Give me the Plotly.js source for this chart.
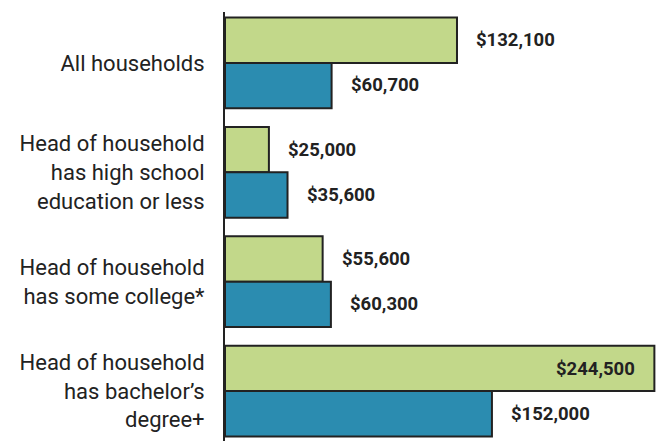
<!DOCTYPE html>
<html><head><meta charset="utf-8">
<script src="https://cdn.plot.ly/plotly-3.0.1.min.js"></script>
<style>body{margin:0;background:#fff}#c{width:660px;height:441px}</style>
</head><body><div id="c"></div>
<script>
const categories = ["All households", "Head of household<br>has high school<br>education or less", "Head of household<br>has some college*", "Head of household<br>has bachelor’s<br>degree+"];
const greenValues = [132100, 25000, 55600, 244500];
const blueValues = [60700, 35600, 60300, 152000];
const greenLabels = ["$132,100", "$25,000", "$55,600", "$244,500"];
const blueLabels = ["$60,700", "$35,600", "$60,300", "$152,000"];

const GREEN = "#c2d88a", BLUE = "#2b8cb0", INK = "#222222";
const traces = [
  {type:"bar", orientation:"h", y:categories, x:greenValues, name:"A",
   marker:{color:GREEN, line:{color:INK, width:2}}, hoverinfo:"none"},
  {type:"bar", orientation:"h", y:categories, x:blueValues, name:"B",
   marker:{color:BLUE, line:{color:INK, width:2}}, hoverinfo:"none"}
];
const maxX = 247700;
const annotations = [];
function addLabels(vals, labels, off){
  vals.forEach((v,i)=>{
    const inside = v > maxX*0.85;
    annotations.push({x:v, y:categories[i], yshift:off, text:labels[i], showarrow:false,
      xanchor: inside ? "right" : "left", xshift: inside ? -17 : 17,
      font:{family:"Roboto, sans-serif", size:18.5, color:INK, weight:700}});
  });
}
addLabels(greenValues, greenLabels, 22.5);
addLabels(blueValues, blueLabels, -22.5);

const layout = {
  width:660, height:441, margin:{l:225, r:0, t:12, b:0},
  paper_bgcolor:"#fff", plot_bgcolor:"#fff",
  barmode:"group", bargap:0.17, bargroupgap:0, showlegend:false,
  font:{family:"Roboto, sans-serif", color:INK},
  xaxis:{range:[0, maxX], visible:false, showgrid:false, zeroline:false, fixedrange:true},
  yaxis:{range:[3.457, -0.466], showline:true, linecolor:INK, linewidth:2, showgrid:false, zeroline:false,
         ticks:"outside", ticklen:14, tickcolor:"rgba(0,0,0,0)",
         tickfont:{size:22, color:INK, family:"Roboto, sans-serif"}},
  annotations: annotations
};
Plotly.newPlot("c", traces, layout, {displayModeBar:false, staticPlot:true});
</script></body></html>
